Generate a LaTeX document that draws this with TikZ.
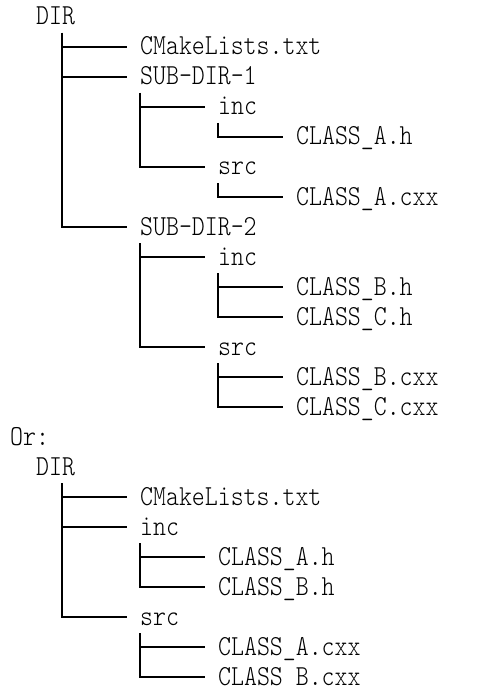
\documentclass[tikz,border=0pt]{standalone}
\usepackage{fontspec}
\newfontfamily\treefont[FakeStretch=0.85]{Latin Modern Mono Light}
\begin{document}
\begin{tikzpicture}[x=1pt,y=-1pt,
  txt/.style={anchor=base west, inner sep=0pt, font=\treefont\fontsize{29pt}{30pt}\selectfont},
  tree/.style={draw=black, line width=2pt}]
\useasboundingbox (0,0) rectangle (503,687);
% first tree
\node[txt] (dir)  at (36,25)  {DIR};
\node[txt] (cm)   at (140,55) {CMakeLists.txt};
\node[txt] (s1)   at (140,85) {SUB-DIR-1};
\node[txt] (s1i)  at (218,115) {inc};
\node[txt] (s1ih) at (296,145) {CLASS\_A.h};
\node[txt] (s1s)  at (218,175) {src};
\node[txt] (s1sc) at (296,205) {CLASS\_A.cxx};
\node[txt] (s2)   at (140,235) {SUB-DIR-2};
\node[txt] (s2i)  at (218,265) {inc};
\node[txt] (s2ib) at (296,295) {CLASS\_B.h};
\node[txt] (s2ic) at (296,325) {CLASS\_C.h};
\node[txt] (s2s)  at (218,355) {src};
\node[txt] (s2sb) at (296,385) {CLASS\_B.cxx};
\node[txt] (s2sc) at (296,415) {CLASS\_C.cxx};
% second tree
\node[txt] (or)   at (10,445) {Or:};
\node[txt] (dirb) at (36,475) {DIR};
\node[txt] (cmb)  at (140,505) {CMakeLists.txt};
\node[txt] (ib)   at (140,535) {inc};
\node[txt] (iba)  at (218,565) {CLASS\_A.h};
\node[txt] (ibb)  at (218,595) {CLASS\_B.h};
\node[txt] (sb)   at (140,625) {src};
\node[txt] (sba)  at (218,655) {CLASS\_A.cxx};
\node[txt] (sbb)  at (218,685) {CLASS\_B.cxx};
% pipe tops
\coordinate (pdir) at (62,33);
\coordinate (ps1)  at (140,93);
\coordinate (ps1i) at (218,123);
\coordinate (ps1s) at (218,183);
\coordinate (ps2)  at (140,243);
\coordinate (ps2i) at (218,273);
\coordinate (ps2s) at (218,363);
\coordinate (pdirb) at (62,483);
\coordinate (pib)  at (140,543);
\coordinate (psb)  at (140,633);
\tikzset{ch/.style={xshift=-13pt,yshift=8pt}}
\draw[tree] (pdir) |- ([ch]cm.base west);
\draw[tree] (pdir) |- ([ch]s1.base west);
\draw[tree] (pdir) |- ([ch]s2.base west);
\draw[tree] (ps1) |- ([ch]s1i.base west);
\draw[tree] (ps1) |- ([ch]s1s.base west);
\draw[tree] (ps1i) |- ([ch]s1ih.base west);
\draw[tree] (ps1s) |- ([ch]s1sc.base west);
\draw[tree] (ps2) |- ([ch]s2i.base west);
\draw[tree] (ps2) |- ([ch]s2s.base west);
\draw[tree] (ps2i) |- ([ch]s2ib.base west);
\draw[tree] (ps2i) |- ([ch]s2ic.base west);
\draw[tree] (ps2s) |- ([ch]s2sb.base west);
\draw[tree] (ps2s) |- ([ch]s2sc.base west);
\draw[tree] (pdirb) |- ([ch]cmb.base west);
\draw[tree] (pdirb) |- ([ch]ib.base west);
\draw[tree] (pdirb) |- ([ch]sb.base west);
\draw[tree] (pib) |- ([ch]iba.base west);
\draw[tree] (pib) |- ([ch]ibb.base west);
\draw[tree] (psb) |- ([ch]sba.base west);
\draw[tree] (psb) |- ([ch]sbb.base west);
\end{tikzpicture}
\end{document}
